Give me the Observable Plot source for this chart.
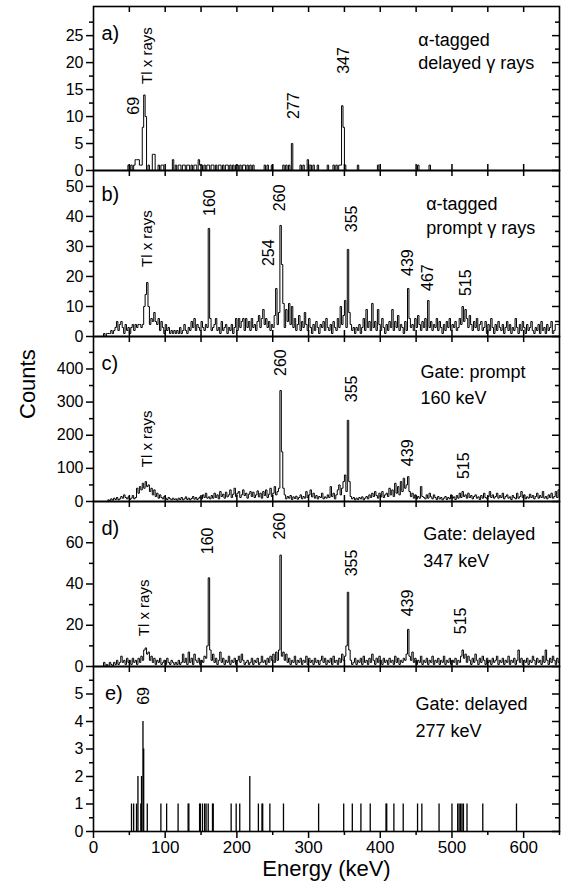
<!DOCTYPE html>
<html><head><meta charset="utf-8">
<script src="https://cdn.jsdelivr.net/npm/d3@7"></script>
<script src="https://cdn.jsdelivr.net/npm/@observablehq/plot@0.6"></script>
<style>
body{margin:0;background:#fff}
#chart{position:relative;width:564px;height:888px;background:#fff}
#chart svg{position:absolute;left:0;top:0}
</style>
</head><body><div id="chart"></div>
<script>
// ---------------- DATA ----------------
// Histogram channels for panels b, c, d: 2 keV bins starting at 14 keV
const binStart = 14, binWidth = 2;

// b) alpha-tagged prompt gamma rays
const countsB = [
  1,0,1,1,1,2,1,2,3,5,2,4,5,3,1,4,2,3,1,3,4,2,4,3,4,        // 14-62
  4,3,4,10,14,18,10,4,6,5,8,5,4,6,2,5,3,1,4,2,3,1,2,1,2,    // 64-112
  1,2,1,3,1,2,4,2,1,3,2,5,3,6,2,4,3,2,5,3,2,4,3,36,6,       // 114-162
  2,3,4,6,2,3,1,5,2,3,4,1,3,2,4,1,3,6,2,6,3,5,6,2,6,        // 164-212
  3,5,2,6,3,4,2,5,7,3,6,9,4,6,3,5,2,4,3,7,16,4,8,37,24,     // 214-262
  11,3,9,5,11,4,10,3,6,2,4,7,2,5,3,8,4,2,6,3,1,4,2,5,3,     // 264-312
  1,4,3,5,2,6,3,2,4,1,5,3,2,6,3,10,4,7,12,3,29,8,4,2,3,     // 314-362
  1,3,2,4,1,3,6,2,9,3,5,2,11,3,5,2,9,4,2,6,3,1,4,2,5,       // 364-412
  3,9,2,5,3,7,2,4,3,1,5,2,16,6,3,4,2,6,3,7,4,2,5,3,6,       // 414-462
  2,12,3,5,2,4,3,6,2,5,3,1,4,2,5,3,6,2,4,3,5,2,3,6,4,       // 464-512
  10,5,9,6,3,7,4,2,5,3,6,2,4,5,2,3,5,1,4,2,6,3,1,4,2,       // 514-562
  5,3,2,4,1,3,5,2,4,1,3,2,6,3,1,4,2,5,3,1,4,2,3,5,2,        // 564-612
  1,3,2,4,1,5,2,3,1,4,2,3,5,1,2,4,4,4                       // 614-648
];

// c) gate: prompt 160 keV
const countsC = [
  0,0,0,5,3,8,4,10,6,12,5,8,15,10,20,12,8,14,6,10,18,8,12,40,25,
  45,35,55,40,60,45,50,30,40,20,35,15,25,10,20,12,8,15,10,6,12,8,5,10,6,
  8,4,10,6,12,5,8,14,6,10,5,9,15,7,12,6,10,14,8,20,12,25,10,14,8,
  18,10,25,12,20,8,30,15,22,10,28,14,20,35,12,22,40,15,25,30,12,20,35,18,25,
  10,22,30,15,28,12,20,32,14,25,10,30,18,35,12,22,40,15,25,45,20,30,40,335,150,
  40,20,8,15,10,18,6,14,9,16,7,12,20,8,15,10,30,12,20,35,14,25,10,18,8,
  15,12,25,8,14,10,20,12,45,15,25,8,20,35,50,20,40,60,80,30,245,60,15,8,12,
  5,10,6,12,8,14,5,10,15,8,20,12,25,15,30,18,10,25,14,30,12,20,25,15,40,
  20,35,15,55,25,45,20,60,30,70,40,50,75,30,15,25,10,20,8,15,10,45,15,12,8,
  20,10,25,14,8,20,12,6,15,8,12,5,10,15,6,12,8,20,10,14,6,18,10,25,12,
  30,15,20,10,25,12,18,8,15,20,10,14,6,18,10,25,12,8,15,30,12,20,10,15,25,
  10,18,12,25,8,15,20,10,14,6,18,12,8,25,10,15,30,12,20,8,14,10,22,12,18,
  8,15,25,10,18,12,30,10,15,8,20,12,25,10,15,30,12,35
];

// d) gate: delayed 347 keV
const countsD = [
  2,0,1,0,2,1,0,2,1,3,1,2,5,2,3,1,4,2,3,1,4,2,3,1,4,
  2,5,3,8,9,6,7,3,5,2,4,1,3,2,4,1,2,3,1,4,2,1,3,2,1,
  2,1,3,1,2,6,2,4,1,7,2,4,1,6,3,2,4,1,3,2,5,4,10,43,8,
  3,6,2,4,1,3,7,2,4,1,3,2,5,1,3,2,4,1,3,5,2,6,3,1,2,
  3,1,2,4,1,3,2,4,1,2,5,2,3,1,4,2,5,3,6,2,7,3,8,54,5,
  7,3,6,2,4,1,3,2,5,1,3,2,4,1,3,2,5,1,4,2,3,1,4,2,3,
  1,3,5,2,4,1,3,2,4,1,5,2,3,1,4,2,6,3,5,10,36,8,3,1,2,
  4,1,3,2,4,1,5,2,3,1,4,2,6,3,1,4,2,5,3,1,4,2,3,1,4,
  2,3,1,5,2,4,1,3,2,4,3,6,18,5,3,7,2,4,1,3,2,5,1,3,2,
  4,1,3,2,5,1,3,2,4,1,3,2,5,1,3,2,4,1,3,2,4,1,3,2,5,
  8,4,6,2,5,3,1,4,2,6,3,1,4,2,5,3,1,4,2,3,1,4,2,3,5,
  1,3,2,4,1,3,2,5,1,3,2,4,1,3,8,2,4,1,3,2,4,1,3,2,5,
  3,1,4,2,3,1,5,2,8,3,1,4,2,5,3,1,4,2
];

// a) alpha-tagged delayed gamma rays: sparse, non-zero 2 keV bins (40-650 keV)
const aRangeStart = 40, aRangeEnd = 650;
const aEnergy = [48,52,56,58,60,62,64,66,68,70,72,76,82,84,90,94,96,110,114,118,120,124,126,130,132,136,140,142,146,148,150,154,158,160,164,166,170,174,176,180,184,186,190,194,198,200,204,208,210,214,218,222,238,242,248,264,268,272,276,288,292,298,302,306,312,326,334,338,342,344,346,348,350,368,396,452,468];
const aCounts = [1,1,1,2,2,2,1,1,8,14,10,1,3,3,1,1,1,2,1,1,1,1,1,1,1,1,1,1,2,1,1,1,1,1,1,1,1,1,1,1,1,1,1,1,1,1,1,1,1,1,1,1,1,1,1,1,1,1,5,1,1,2,1,1,1,1,1,1,1,1,12,8,1,1,1,1,1];

// e) gate: delayed 277 keV: individual events
const eEnergy = [53,56,60,62,66,67,69,70,75,94,102,118,132,133,148,149,152,155,157,160,166,167,192,199,204,218,230,235,236,246,265,314,349,361,373,386,408,409,419,432,452,458,482,500,508,510,512,514,516,521,543,590];
const eCounts = [1,1,1,2,1,2,4,3,1,1,1,1,1,1,1,1,1,1,1,1,1,1,1,1,1,2,1,1,1,1,1,1,1,1,1,1,1,1,1,1,1,1,1,1,1,1,1,1,1,1,1,1];

// Tick values
const xTicksLabeled = [0,100,200,300,400,500,600];
const xTicksAll = [50,100,150,200,250,300,350,400,450,500,550,600];
const xTicksMinor = [50,150,250,350,450,550,650];
const yMajorA = [0,5,10,15,20,25], yMinorA = [2.5,7.5,12.5,17.5,22.5,27.5];
const yMajorB = [0,10,20,30,40,50], yMinorB = [5,15,25,35,45];
const yMajorC = [0,100,200,300,400], yMinorC = [50,150,250,350,450];
const yMajorD = [0,20,40,60], yMinorD = [10,30,50,70];
const yMajorE = [0,1,2,3,4,5], yMinorE = [0.5,1.5,2.5,3.5,4.5,5.5];

// ---------------- BUILD ----------------
const FONT = '"Liberation Sans", Arial, Helvetica, sans-serif';
const W = 564, H = 888, ML = 93, MR = 5;
const innerW = W - ML - MR;
const fmt = d => String(d);

function histLine(start, width, counts) {
  const pts = [{e: start, c: 0}];
  counts.forEach((c, i) => pts.push({e: start + i * width, c}));
  const end = start + counts.length * width;
  pts.push({e: end, c: counts[counts.length - 1]});
  pts.push({e: end, c: 0});
  return pts;
}

const aMap = new Map(aEnergy.map((e, i) => [e, aCounts[i]]));
const aFull = d3.range(aRangeStart, aRangeEnd, 2).map(e => aMap.get(e) || 0);
const eEvents = eEnergy.map((e, i) => ({e, c: eCounts[i]}));

const panels = [
  {top: 6, bottom: 170, ymax: 30.4, major: yMajorA, minor: yMinorA,
   data: [Plot.line(histLine(aRangeStart, 2, aFull), {x: "e", y: "c", curve: "step-after", stroke: "black", strokeWidth: 1})],
   letter: {t: "a)", x: 11, y: 25.4},
   peaks: [{t: "69", x: 56, y: 12}, {t: "Tl x rays", x: 75, y: 21.3, s: 15}, {t: "277", x: 280, y: 12}, {t: "347", x: 349, y: 20.4}],
   notes: [{t: "α-tagged", x: 453, y: 24.1}, {t: "delayed γ rays", x: 453, y: 19.8}]},
  {top: 170, bottom: 336, ymax: 55.3, major: yMajorB, minor: yMinorB,
   data: [Plot.line(histLine(binStart, binWidth, countsB), {x: "e", y: "c", curve: "step-after", stroke: "black", strokeWidth: 1})],
   letter: {t: "b)", x: 11, y: 47.2},
   peaks: [{t: "Tl x rays", x: 75, y: 32.6, s: 15}, {t: "160", x: 163, y: 44.6}, {t: "260", x: 259.5, y: 46.2},
           {t: "254", x: 244, y: 27.9}, {t: "355", x: 361, y: 39.2}, {t: "439", x: 439, y: 24.6},
           {t: "467", x: 467, y: 19.6}, {t: "515", x: 519, y: 17.9}],
   notes: [{t: "α-tagged", x: 464, y: 44.2}, {t: "prompt γ rays", x: 464, y: 36.2}]},
  {top: 336, bottom: 501, ymax: 498, major: yMajorC, minor: yMinorC,
   data: [Plot.line(histLine(binStart, binWidth, countsC), {x: "e", y: "c", curve: "step-after", stroke: "black", strokeWidth: 1})],
   letter: {t: "c)", x: 11, y: 416},
   peaks: [{t: "Tl x rays", x: 75, y: 189, s: 15}, {t: "260", x: 261, y: 419}, {t: "355", x: 361, y: 340},
           {t: "439", x: 439, y: 147}, {t: "515", x: 517, y: 108}],
   notes: [{t: "Gate: prompt", x: 456, y: 389}, {t: "160 keV", x: 456, y: 313}],
   counts: true},
  {top: 501, bottom: 666, ymax: 80, major: yMajorD, minor: yMinorD,
   data: [Plot.line(histLine(binStart, binWidth, countsD), {x: "e", y: "c", curve: "step-after", stroke: "black", strokeWidth: 1})],
   letter: {t: "d)", x: 11, y: 66.7},
   peaks: [{t: "Tl x rays", x: 71, y: 28.4, s: 15}, {t: "160", x: 160, y: 60.9}, {t: "260", x: 259.5, y: 68.1},
           {t: "355", x: 361, y: 50.2}, {t: "439", x: 439, y: 30.8}, {t: "515", x: 512, y: 22.1}],
   notes: [{t: "Gate: delayed", x: 460, y: 64.3}, {t: "347 keV", x: 460, y: 51.2}]},
  {top: 666, bottom: 831, ymax: 6.0, major: yMajorE, minor: yMinorE,
   data: [Plot.ruleX(eEvents, {x: "e", y1: 0, y2: "c", stroke: "black", strokeWidth: 1.3})],
   letter: {t: "e)", x: 16, y: 5.0},
   peaks: [{t: "69", x: 70, y: 4.93}],
   notes: [{t: "Gate: delayed", x: 449, y: 4.64}, {t: "277 keV", x: 449, y: 3.66}],
   last: true}
];

const chart = document.getElementById("chart");
for (const p of panels) {
  const h = p.bottom - p.top;
  const marks = [
    ...p.data,
    Plot.frame({stroke: "black", strokeWidth: 1.6}),
    Plot.axisY({ticks: p.major, tickSize: 7, tickPadding: 3, tickFormat: fmt, label: null, strokeWidth: 1.5, fontSize: 16}),
    Plot.axisY({ticks: p.minor, tickSize: 4, tickFormat: () => "", label: null, strokeWidth: 1.5}),
    Plot.ruleY(p.major, {y: d => d, insetLeft: innerW - 7, strokeWidth: 1.5}),
    Plot.ruleY(p.minor, {y: d => d, insetLeft: innerW - 4, strokeWidth: 1.5}),
    Plot.ruleX(xTicksAll, {x: d => d, insetBottom: h - 6, strokeWidth: 1.5}),
    Plot.text([p.letter], {x: "x", y: "y", text: "t", textAnchor: "start", fontSize: 20}),
    Plot.text(p.peaks, {x: "x", y: "y", text: "t", rotate: -90, fontSize: d => d.s || 16}),
    Plot.text(p.notes, {x: "x", y: "y", text: "t", textAnchor: "start", fontSize: 18})
  ];
  if (p.last) {
    marks.push(
      Plot.axisX({anchor: "bottom", ticks: xTicksLabeled, tickSize: 7, tickPadding: 2, tickFormat: fmt, label: null, strokeWidth: 1.5, fontSize: 17}),
      Plot.axisX({anchor: "bottom", ticks: xTicksMinor, tickSize: 4, tickFormat: () => "", label: null, strokeWidth: 1.5}),
      Plot.text(["Energy (keV)"], {text: d => d, frameAnchor: "bottom", dy: 44, fontSize: 22})
    );
  } else {
    marks.push(Plot.ruleX(xTicksAll, {x: d => d, insetTop: h - 6, strokeWidth: 1.5}));
  }
  if (p.counts) {
    marks.push(Plot.text(["Counts"], {text: d => d, frameAnchor: "left", dx: -66, rotate: -90, fontSize: 22}));
  }
  const svg = Plot.plot({
    width: W, height: H,
    marginLeft: ML, marginRight: MR, marginTop: p.top, marginBottom: H - p.bottom,
    x: {domain: [0, 650], axis: null},
    y: {domain: [0, p.ymax], axis: null},
    style: {background: "transparent", fontFamily: FONT, fontSize: "16px", color: "black", overflow: "visible"},
    marks
  });
  svg.style.position = "absolute";
  svg.style.left = "0px";
  svg.style.top = "0px";
  chart.appendChild(svg);
}
</script></body></html>
